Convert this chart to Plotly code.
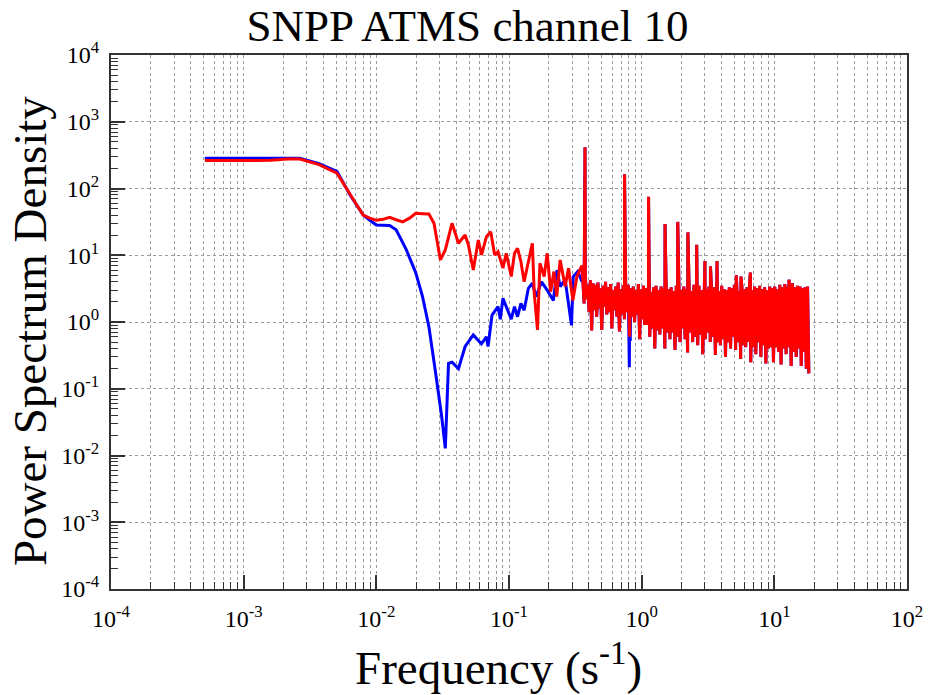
import numpy as np
import plotly.graph_objects as go

# ---- Low-frequency part of each spectrum (frequency in s^-1, PSD) ----
freq_blue_low = [5.1e-4, 1.06e-3, 1.59e-3, 2.12e-3, 2.65e-3, 3.7e-3, 5.05e-3, 6.34e-3, 7.96e-3, 8.9e-3,
                 1.0e-2, 1.26e-2, 1.41e-2, 1.67e-2, 1.98e-2, 2.23e-2, 2.49e-2, 2.79e-2, 3.1e-2, 3.31e-2,
                 3.5e-2, 3.72e-2, 4.16e-2, 4.67e-2, 5.38e-2, 6.2e-2, 6.76e-2, 6.95e-2, 7.45e-2, 8.26e-2,
                 8.6e-2, 9.0e-2, 9.8e-2, 0.104, 0.110, 0.116, 0.123, 0.130, 0.140, 0.150,
                 0.160, 0.176, 0.194, 0.216, 0.230, 0.243, 0.265, 0.296, 0.305, 0.330, 0.350]
psd_blue_low = [283, 285, 287, 287, 283, 235, 180, 80, 40, 33.7,
                28.4, 28, 24, 12.5, 5.5, 2.4, 0.85, 0.18, 0.04, 0.0128,
                0.24, 0.25, 0.20, 0.43, 0.64, 0.47, 0.6, 0.43, 1.27, 1.7,
                1.1, 2.26, 1.5, 1.1, 1.7, 1.2, 1.9, 1.5, 3.2, 3.8,
                2.4, 4.0, 3.0, 2.1, 6.0, 3.4, 4.3, 0.89, 4.8, 5.7, 4.3]

freq_red_low = [5.1e-4, 1.06e-3, 1.59e-3, 2.12e-3, 2.65e-3, 3.7e-3, 5.05e-3, 6.34e-3, 7.96e-3, 8.9e-3,
                1.0e-2, 1.12e-2, 1.26e-2, 1.41e-2, 1.58e-2, 1.78e-2, 1.98e-2, 2.23e-2, 2.49e-2, 2.72e-2,
                3.04e-2, 3.31e-2, 3.72e-2, 4.16e-2, 4.67e-2, 4.94e-2, 5.38e-2, 5.87e-2, 6.21e-2, 6.76e-2,
                7.28e-2, 7.8e-2, 8.26e-2, 9.0e-2, 9.53e-2, 0.104, 0.110, 0.116, 0.123, 0.130,
                0.138, 0.150, 0.155, 0.164, 0.171, 0.184, 0.194, 0.206, 0.218, 0.229,
                0.243, 0.265, 0.281, 0.303, 0.325, 0.354]
psd_red_low = [262, 262, 264, 276, 276, 228, 170, 82, 40, 36,
               33.5, 34.5, 37, 34, 31.6, 36, 42.5, 42, 41.5, 30.1,
               8.5, 12.0, 30.1, 15.1, 20.1, 14.3, 6.0, 16.9, 10.1, 19.0,
               22.5, 10.1, 11.3, 6.4, 10.7, 4.8, 10.7, 12.7, 8.0, 4.0,
               6.7, 15.1, 2.7, 0.76, 7.6, 4.8, 10.7, 2.85, 5.7, 2.4,
               8.5, 3.4, 6.4, 2.1, 4.8, 7.0]

# ---- High-frequency noise band, shared by both spectra ----
band_f_start, band_f_stop = 0.36, 18.2
psd_band = [
    4.5, 1.9, 5.0, 2.2, 3.6, 1.4, 4.2, 0.75, 3.8, 1.5,
    3.6, 1.2, 3.9, 1.6, 3.2, 0.76, 3.5, 1.7, 4.0, 1.3,
    3.3, 1.4, 3.7, 0.8, 3.0, 1.5, 3.4, 1.2, 3.9, 0.72,
    3.1, 1.3, 3.5, 1.1, 2.9, 1.4, 3.6, 0.6, 3.2, 1.2,
    3.4, 1.0, 3.0, 1.3, 3.7, 0.55, 3.1, 1.1, 3.5, 0.9,
    3.2, 0.9, 3.6, 0.6, 2.8, 0.8, 3.3, 0.4, 3.5, 0.75,
    3.0, 0.65, 3.4, 0.8, 3.2, 0.4, 3.6, 0.7, 3.1, 0.55,
    3.3, 0.7, 2.9, 0.38, 3.5, 0.6, 3.2, 0.5, 3.0, 0.8,
    3.4, 0.55, 3.1, 0.35, 3.3, 0.7, 2.9, 0.5, 3.6, 0.6,
    3.2, 0.45, 3.5, 0.65, 3.0, 0.33, 3.3, 0.55, 3.1, 0.7,
    3.4, 0.5, 3.0, 0.6, 3.3, 0.32, 3.2, 0.5, 2.9, 0.45,
    3.5, 0.55, 3.1, 0.3, 3.0, 0.5, 3.3, 0.4, 3.2, 0.6,
    3.6, 0.38, 3.2, 0.5, 2.9, 0.28, 3.4, 0.45, 3.1, 0.42,
    3.3, 0.5, 3.5, 0.25, 3.0, 0.42, 3.4, 0.33, 3.2, 0.5,
    3.5, 0.3, 3.1, 0.45, 3.3, 0.24, 3.0, 0.4, 3.4, 0.42,
    3.2, 0.25, 3.4, 0.42, 3.1, 0.36, 3.6, 0.23, 3.3, 0.4,
    3.7, 0.33, 3.4, 0.42, 3.2, 0.22, 3.8, 0.36, 3.3, 0.3,
    3.5, 0.4, 3.4, 0.22, 3.2, 0.36, 3.3, 0.2, 3.4, 0.17,
]

# Harmonic spikes (scan-related lines)
spike_freq = [0.374, 0.743, 1.127, 1.50, 1.87, 2.23, 2.60, 3.0, 3.3, 3.7, 5.17, 5.6, 6.6, 12.9]
spike_psd = [414, 163, 75, 29.4, 31.6, 22, 14.3, 8.2, 6.8, 8.2, 5.0, 4.8, 5.5, 4.3]

# Extra dips that only the blue spectrum shows inside the band
blue_dip_freq = [0.807, 0.82]
blue_dip_psd = [0.21, 0.52]

# ---- Axis ticks ----
major_exp_x = [-4, -3, -2, -1, 0, 1, 2]
major_exp_y = [-4, -3, -2, -1, 0, 1, 2, 3, 4]


def merge(*pairs):
    f = np.concatenate([np.asarray(p[0], dtype=float) for p in pairs])
    v = np.concatenate([np.asarray(p[1], dtype=float) for p in pairs])
    order = np.argsort(f, kind="stable")
    return f[order], v[order]


band_freq = np.geomspace(band_f_start, band_f_stop, len(psd_band))

fb, pb = merge((freq_blue_low, psd_blue_low), (band_freq, psd_band),
               (spike_freq, spike_psd), (blue_dip_freq, blue_dip_psd))
fr, pr = merge((freq_red_low, psd_red_low), (band_freq, psd_band),
               (spike_freq, spike_psd))

fig = go.Figure()
fig.add_trace(go.Scatter(x=fb, y=pb, mode="lines",
                         line=dict(color="#0000FF", width=3), hoverinfo="skip"))
fig.add_trace(go.Scatter(x=fr, y=pr, mode="lines",
                         line=dict(color="#FF0000", width=3), hoverinfo="skip"))


def ticks(exps):
    vals = [10.0 ** e for e in exps]
    text = [f"10<sup>{e}</sup>" for e in exps]
    minor = [k * 10.0 ** e for e in exps[:-1] for k in range(2, 10)]
    return vals, text, minor


xv, xtxt, xminor = ticks(major_exp_x)
yv, ytxt, yminor = ticks(major_exp_y)

AX = "#333333"
GRID = "#9a9a9a"
FONT = "Liberation Serif, Times New Roman, serif"


def axis(vals, text, minor, rng, standoff, minor_grid):
    return dict(
        type="log", range=rng, tickmode="array", tickvals=vals, ticktext=text,
        ticks="inside", ticklen=14, tickwidth=1.5, tickcolor=AX,
        showline=True, linewidth=2, linecolor=AX, mirror=True,
        showgrid=True, gridcolor=GRID, griddash="dot", gridwidth=1,
        zeroline=False, tickfont=dict(size=24, family=FONT, color="black"),
        ticklabelstandoff=standoff,
        minor=dict(tickmode="array", tickvals=minor, ticks="inside", ticklen=7,
                   tickwidth=1, tickcolor=AX, showgrid=minor_grid, gridcolor=GRID,
                   griddash="dot", gridwidth=1),
    )


fig.update_layout(
    width=935, height=695,
    margin=dict(l=111, r=17, t=55, b=106),
    paper_bgcolor="white", plot_bgcolor="white",
    showlegend=False,
    font=dict(family=FONT, color="black"),
    title=dict(text="SNPP ATMS channel 10", x=0.5, xref="container", xanchor="center",
               y=1 - 25 / 695, yref="container", yanchor="middle",
               font=dict(size=45, family=FONT, color="black")),
    xaxis=axis(xv, xtxt, xminor, [-4, 2], 7, True),
    yaxis=axis(yv, ytxt, yminor, [-4, 4], 5, False),
    annotations=[
        dict(text="Frequency (s<sup>-1</sup>)", xref="paper", yref="paper",
             x=(504 - 111) / 807, y=(589 - 664) / 534, xanchor="center", yanchor="middle",
             showarrow=False, font=dict(size=47, family=FONT, color="black")),
        dict(text="Power Spectrum Density", xref="paper", yref="paper",
             x=(29 - 111) / 807, y=(589 - 331) / 534, xanchor="center", yanchor="middle",
             textangle=-90, showarrow=False,
             font=dict(size=47, family=FONT, color="black")),
    ],
)

fig.write_html("out.html")
